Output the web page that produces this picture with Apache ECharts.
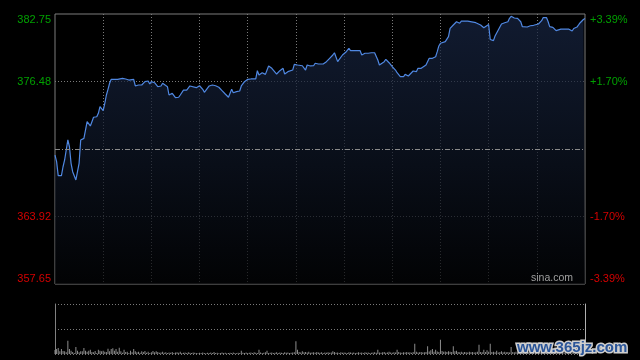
<!DOCTYPE html>
<html>
<head>
<meta charset="utf-8">
<script src="https://cdn.jsdelivr.net/npm/echarts@6/dist/echarts.min.js"></script>
<style>
html,body{margin:0;padding:0;background:#000;}
#chart{width:640px;height:360px;}
</style>
</head>
<body>
<div id="chart"></div>
<script>
// ---- data ----
const prevClose = 370.20;
const priceStep = 6.275; // price distance between horizontal grid lines
const leftTickLabels = ['357.65', '363.92', '', '376.48', '382.75'];
const rightTickLabels = ['-3.39%', '-1.70%', '', '+1.70%', '+3.39%'];

const minutes = [0,1,2,4,5,6,7,8,9,10,11,13,14,15,16,18,19,20,21,22,23,24,26,27,28,29,30,31,32,33,34,35,36,37,38,39,40,42,43,44,45,46,47,49,50,51,52,54,56,58,59,60,62,63,64,66,67,68,70,71,73,75,77,78,80,81,82,84,85,88,89,90,92,93,94,96,98,99,100,102,104,106,108,109,110,111,113,115,116,117,118,120,121,122,125,126,127,129,130,131,133,134,135,138,140,142,143,145,148,149,151,154,156,157,159,161,162,164,165,167,169,171,173,174,176,177,179,181,183,184,190,191,193,195,196,197,199,201,202,203,205,206,208,209,210,212,213,215,217,218,220,221,223,225,226,227,228,229,231,232,233,235,236,237,238,239,240,241,243,244,245,246,248,249,250,252,253,255,257,258,262,265,267,268,270,271,273,274,276,278,280,282,283,284,286,288,290,291,292,294,296,298,299,301,303,304,306,307,308,310,312,313,315,320,322,323,325,326,327,329,330];
const prices = [369.64,369.02,367.72,367.72,368.55,369.18,369.36,371.04,370.41,368.87,368.09,367.32,368.09,368.87,371.04,371.19,371.34,372.74,372.90,372.34,372.74,373.15,373.20,373.52,374.13,374.13,373.76,374.45,375.22,375.75,376.31,376.68,376.55,376.68,376.55,376.68,376.61,376.77,376.87,376.71,376.77,376.61,376.74,376.68,376.06,375.99,376.15,376.15,376.46,376.52,376.24,376.46,376.36,376.49,375.99,376.06,376.31,376.36,375.99,375.22,375.38,374.97,375.01,375.22,375.68,375.53,375.68,376.06,375.94,375.90,375.75,376.08,375.75,375.47,375.53,376.06,376.15,375.99,376.08,375.94,375.62,375.31,375.01,375.38,375.75,375.43,375.53,375.59,376.06,376.15,376.46,376.68,376.61,376.71,376.71,377.48,377.08,377.29,377.24,377.14,377.92,377.92,377.70,377.17,377.48,377.70,377.17,377.39,377.54,378.07,378.01,377.94,377.54,378.01,377.92,377.94,378.17,378.10,377.94,378.10,378.32,378.63,378.94,379.15,378.32,378.54,378.94,379.19,379.56,379.34,379.34,378.94,379.10,379.10,378.94,379.15,379.15,378.47,378.01,378.17,378.32,378.54,378.22,378.32,377.85,377.54,377.29,376.92,376.92,377.14,376.99,377.14,377.45,377.39,377.70,377.61,377.70,377.54,378.01,378.17,378.63,378.63,378.54,378.78,379.25,379.78,380.03,380.18,380.18,380.12,380.64,381.42,381.73,381.63,382.03,381.89,382.08,382.10,382.08,381.94,381.94,381.73,381.47,381.63,381.77,380.38,380.27,380.70,381.26,381.82,381.94,382.03,382.35,382.54,382.38,382.35,382.03,381.57,381.40,381.54,381.66,381.70,381.55,381.82,382.13,382.42,382.42,382.05,381.57,381.51,381.20,381.31,381.34,381.34,381.17,381.40,381.54,381.73,381.94,382.24,382.33];

// per-minute volume (thousand shares), minute 0..330
const volumes = [
  80,100,120,55,100,60,55,35,265,100,
  65,40,20,140,65,35,55,55,120,65,
  45,65,85,40,35,60,20,85,65,55,
  65,45,40,105,55,100,115,65,100,45,
  125,55,25,85,40,45,20,65,35,100,
  55,35,45,25,55,40,60,25,45,20,
  35,60,35,55,40,25,30,45,25,35,
  20,30,25,40,20,30,35,25,45,20,
  25,30,20,35,25,20,30,25,20,15,
  25,20,30,20,15,25,20,30,20,40,
  20,25,15,20,30,20,25,15,20,25,
  20,30,20,15,25,20,65,25,20,30,
  20,25,30,20,35,25,20,85,30,20,
  25,35,65,20,25,30,20,25,35,20,
  30,25,20,35,25,30,20,25,30,35,
  255,85,40,30,55,35,40,30,45,25,
  30,35,25,40,30,25,35,20,30,25,
  35,25,30,55,40,25,30,20,35,25,
  30,25,20,35,30,25,30,20,25,35,
  25,30,20,35,25,30,20,25,30,35,
  25,85,30,25,35,40,25,30,45,30,
  25,35,30,85,40,30,25,35,30,40,
  30,35,25,40,205,45,30,35,40,30,
  35,40,155,50,75,100,45,85,50,40,
  285,60,45,50,40,55,45,40,155,55,
  65,40,35,45,30,40,35,30,45,35,
  40,30,35,45,185,40,35,85,40,75,
  45,205,40,45,35,65,30,40,55,35,
  45,35,40,30,140,40,35,45,30,40,
  35,40,30,45,35,40,30,35,45,40,
  30,40,35,45,30,40,35,30,40,45,
  35,30,40,45,35,30,40,35,45,40,
  35,40,45,35,50,40,45,50,40,55,
  60
];

// ---- build ----
const lineData = minutes.map((m, i) => [m, (prices[i] - prevClose) / priceStep]);
const volData = volumes.map((v, i) => [i, v]);

const dotColor = '#7a7a7a';
const none = 'rgba(0,0,0,0)';
// first/last split lines coincide with the solid frame; the zero line is drawn dash-dot separately
const ySplitColors = [none, dotColor, none, dotColor, none];
const xSplitColors = [none, dotColor, dotColor, dotColor, dotColor, dotColor, dotColor, dotColor, dotColor, dotColor, dotColor, none];
const green = '#00a000', red = '#d40000';
const labelColor = (v) => (Number(v) > 0 ? green : red);
const labelFont = 'Liberation Sans, Arial, sans-serif';

const chart = echarts.init(document.getElementById('chart'), null, { renderer: 'canvas' });
chart.setOption({
  backgroundColor: '#000',
  animation: false,
  grid: [
    { left: 55, right: 55, top: 14, height: 270, show: true, borderColor: '#7c7c7c', borderWidth: 1, backgroundColor: 'transparent' },
    { left: 55, right: 55, top: 304, height: 50 }
  ],
  xAxis: [
    { type: 'value', gridIndex: 0, min: 0, max: 330, interval: 30,
      axisLine: { show: false }, axisTick: { show: false }, axisLabel: { show: false },
      splitLine: { show: true, lineStyle: { color: xSplitColors, type: [1, 2], width: 1 } } },
    { type: 'value', gridIndex: 1, min: 0, max: 330, interval: 30,
      axisLine: { show: false }, axisTick: { show: false }, axisLabel: { show: false },
      splitLine: { show: false } }
  ],
  yAxis: [
    { type: 'value', gridIndex: 0, position: 'left', min: -2, max: 2, interval: 1,
      axisLine: { show: false }, axisTick: { show: false },
      splitLine: { show: true, lineStyle: { color: ySplitColors, type: [1, 2], width: 1 } },
      axisLabel: { margin: 4, fontSize: 11, fontFamily: labelFont,
        color: labelColor,
        verticalAlignMinLabel: 'bottom', verticalAlignMaxLabel: 'top',
        formatter: (v) => leftTickLabels[Math.round(v) + 2] } },
    { type: 'value', gridIndex: 0, position: 'right', min: -2, max: 2, interval: 1,
      axisLine: { show: false }, axisTick: { show: false }, splitLine: { show: false },
      axisLabel: { margin: 5, fontSize: 11, fontFamily: labelFont,
        color: labelColor,
        verticalAlignMinLabel: 'bottom', verticalAlignMaxLabel: 'top',
        formatter: (v) => rightTickLabels[Math.round(v) + 2] } },
    { type: 'value', gridIndex: 1, position: 'left', min: 0, max: 1000, interval: 500,
      axisLine: { show: true, lineStyle: { color: '#808080', width: 1 } },
      axisTick: { show: false }, axisLabel: { show: false },
      splitLine: { show: true, lineStyle: { color: dotColor, type: [1, 2], width: 1 } } },
    { type: 'value', gridIndex: 1, position: 'right', min: 0, max: 1000, interval: 500,
      axisLine: { show: true, lineStyle: { color: '#b0b0b0', width: 1 } },
      axisTick: { show: false }, axisLabel: { show: false }, splitLine: { show: false } }
  ],
  series: [
    { type: 'line', xAxisIndex: 0, yAxisIndex: 0, data: lineData,
      showSymbol: false, symbol: 'none', smooth: false,
      lineStyle: { color: '#5088e2', width: 1.2 },
      areaStyle: { origin: 'start', color: new echarts.graphic.LinearGradient(0, 0, 0, 1, [
        { offset: 0, color: 'rgba(24,38,68,1)' },
        { offset: 0.5, color: 'rgba(14,22,38,1)' },
        { offset: 1, color: 'rgba(3,4,6,1)' }
      ]) },
      markLine: { silent: true, symbol: 'none', label: { show: false },
        lineStyle: { color: '#8a8a8a', type: [5, 2, 1, 2], width: 1 },
        data: [{ yAxis: 0 }] },
      z: 3 },
    { type: 'bar', xAxisIndex: 1, yAxisIndex: 2, data: volData, barWidth: 1,
      itemStyle: { color: '#8c8c8c' } }
  ],
  graphic: [
    { type: 'text', z: 10, style: { x: 573, y: 284, text: 'sina.com', align: 'right', verticalAlign: 'bottom',
      fill: '#a0a0a0', font: '10.5px "Liberation Sans", Arial, sans-serif' } },
    { type: 'text', z: 10, style: { x: 517, y: 355, text: 'www.365jz.com', align: 'left', verticalAlign: 'bottom',
      fill: '#2a5599', stroke: '#cfcfcf', lineWidth: 3, font: 'bold 15px "Liberation Sans", Arial, sans-serif' } }
  ]
});
</script>
</body>
</html>
